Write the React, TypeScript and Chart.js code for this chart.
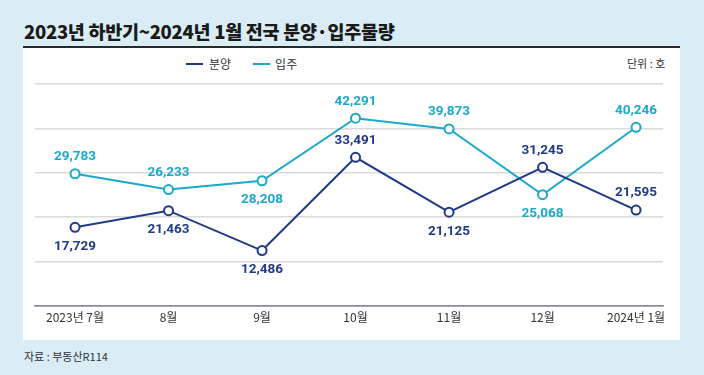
import React, { useEffect, useRef } from "react";
import { Chart, registerables } from "chart.js";

Chart.register(...registerables);

const categories = ["2023년 7월", "8월", "9월", "10월", "11월", "12월", "2024년 1월"];
const supplyValues = [17729, 21463, 12486, 33491, 21125, 31245, 21595]; // 분양
const moveInValues = [29783, 26233, 28208, 42291, 39873, 25068, 40246]; // 입주
const supplyLabelSide = ["below", "below", "below", "above", "below", "above", "above"];
const moveInLabelSide = ["above", "above", "below", "above", "above", "below", "above"];
const yTicks = [0, 10000, 20000, 30000, 40000, 50000];

const NAVY = "#1f3a87";
const CYAN = "#1ba9c9";
const BG = "#dbedf4";
const KFONT = "'Noto Sans CJK KR', 'Noto Sans', sans-serif";

const valueLabelPlugin = {
  id: "valueLabels",
  afterDatasetsDraw(chart: any) {
    const ctx = chart.ctx;
    chart.data.datasets.forEach((ds: any, di: number) => {
      const meta = chart.getDatasetMeta(di);
      const sides = di === 0 ? supplyLabelSide : moveInLabelSide;
      const values = di === 0 ? supplyValues : moveInValues;
      meta.data.forEach((pt: any, i: number) => {
        const above = sides[i] === "above";
        ctx.save();
        ctx.font = "bold 13.5px Roboto, 'Liberation Sans', sans-serif";
        ctx.fillStyle = ds.borderColor;
        ctx.textAlign = "center";
        ctx.textBaseline = "middle";
        ctx.fillText(values[i].toLocaleString("en-US"), pt.x, pt.y + (above ? -17 : 19));
        ctx.restore();
      });
    });
  },
};

export default function App() {
  const canvasRef = useRef<HTMLCanvasElement | null>(null);

  useEffect(() => {
    if (!canvasRef.current) return;
    const chart = new Chart(canvasRef.current, {
      type: "line",
      data: {
        datasets: [
          {
            label: "분양",
            data: supplyValues.map((v, i) => ({ x: i, y: v })),
            borderColor: NAVY,
            backgroundColor: "#ffffff",
            borderWidth: 2,
            pointRadius: 4.5,
            pointBorderWidth: 2,
            pointBackgroundColor: "#ffffff",
            pointBorderColor: NAVY,
            tension: 0,
          },
          {
            label: "입주",
            data: moveInValues.map((v, i) => ({ x: i, y: v })),
            borderColor: CYAN,
            backgroundColor: "#ffffff",
            borderWidth: 2,
            pointRadius: 4.5,
            pointBorderWidth: 2,
            pointBackgroundColor: "#ffffff",
            pointBorderColor: CYAN,
            tension: 0,
          },
        ],
      },
      options: {
        animation: false,
        responsive: false,
        maintainAspectRatio: false,
        layout: { padding: { left: 12, right: 17, top: 36, bottom: 0 } },
        plugins: { legend: { display: false }, tooltip: { enabled: false } },
        scales: {
          x: {
            type: "linear",
            min: -0.428,
            max: 6.288,
            afterBuildTicks: (s: any) => {
              s.ticks = categories.map((_, i) => ({ value: i }));
            },
            afterFit: (s: any) => {
              s.height = 34;
            },
            ticks: {
              callback: (v: any) => categories[v as number],
              color: "#333333",
              font: { family: KFONT, size: 12 },
              padding: 4,
              maxRotation: 0,
              autoSkip: false,
            },
            grid: { display: false, drawTicks: false },
            border: { color: "#8d8a9b", width: 1.5 },
          },
          y: {
            min: 0,
            max: 50000,
            afterBuildTicks: (s: any) => {
              s.ticks = yTicks.map((v) => ({ value: v }));
            },
            afterFit: (s: any) => {
              s.width = 0;
            },
            ticks: { display: false },
            grid: {
              color: (c: any) => (c.tick && c.tick.value === 0 ? "#8d8a9b" : "#dadada"),
              lineWidth: 1.5,
              drawTicks: false,
            },
            border: { display: false },
          },
        },
      },
      plugins: [valueLabelPlugin],
    } as any);
    return () => chart.destroy();
  }, []);

  return (
    <div
      style={{
        position: "absolute",
        left: 0,
        top: 0,
        width: 704,
        height: 375,
        background: BG,
        overflow: "hidden",
        fontFamily: KFONT,
      }}
    >
      <div
        style={{
          position: "absolute",
          left: 24,
          top: 19,
          fontSize: 18.5,
          fontWeight: 900,
          color: "#1a1a1a",
          letterSpacing: -0.3,
          whiteSpace: "nowrap",
          lineHeight: "24px",
        }}
      >
        2023년 하반기~2024년 1월 전국 분양·입주물량
      </div>
      <div style={{ position: "absolute", left: 23, top: 46, width: 657, height: 294, background: "#ffffff" }} />
      <div style={{ position: "absolute", left: 23, top: 46, width: 657, height: 2, background: "#2a2a2a" }} />
      <div
        style={{
          position: "absolute",
          left: 186,
          top: 56,
          display: "flex",
          alignItems: "center",
          fontSize: 12,
          color: "#333333",
          lineHeight: "16px",
          whiteSpace: "nowrap",
        }}
      >
        <span style={{ display: "inline-block", width: 17, height: 2.5, background: NAVY, marginRight: 6 }} />
        <span style={{ marginRight: 22 }}>분양</span>
        <span style={{ display: "inline-block", width: 17, height: 2.5, background: CYAN, marginRight: 5 }} />
        <span>입주</span>
      </div>
      <div
        style={{
          position: "absolute",
          left: 627,
          top: 55,
          fontSize: 11,
          color: "#333333",
          lineHeight: "16px",
          whiteSpace: "nowrap",
        }}
      >
        단위 : 호
      </div>
      <canvas
        ref={canvasRef}
        width={657}
        height={292}
        style={{ position: "absolute", left: 23, top: 48, width: 657, height: 292 }}
      />
      <div
        style={{
          position: "absolute",
          left: 24,
          top: 348,
          fontSize: 11,
          color: "#333333",
          lineHeight: "16px",
          whiteSpace: "nowrap",
        }}
      >
        자료 : 부동산R114
      </div>
    </div>
  );
}
